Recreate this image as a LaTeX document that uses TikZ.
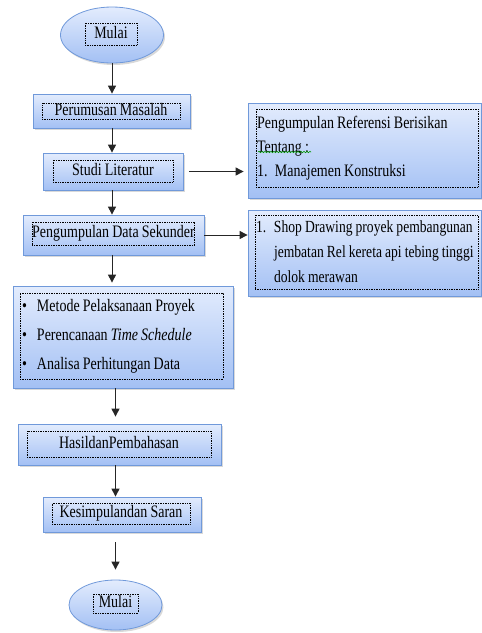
\documentclass[tikz,border=0pt]{standalone}
\usepackage{fontspec}
\setmainfont{Liberation Serif}[FakeStretch=0.8, WordSpace=0.9]
\usetikzlibrary{
    positioning,
    arrows.meta,
    shapes.geometric,
    shadows,
    decorations.pathmorphing
}

\definecolor{boxtop}{HTML}{E3ECFD}
\definecolor{boxbottom}{HTML}{A3C0F4}
\definecolor{boxline}{HTML}{7099DA}

\begin{document}
\begin{tikzpicture}[
    x=1pt, y=-1pt,
    font=\fontsize{17.5}{20}\selectfont,
    flowbox/.style={
        rectangle, draw=boxline, line width=0.8pt,
        top color=boxtop, bottom color=boxbottom, inner sep=0pt,
        drop shadow={shadow xshift=1.5pt, shadow yshift=-2pt, opacity=0.3}
    },
    startend/.style={flowbox, ellipse},
    textframe/.style={
        rectangle, draw=black, densely dotted, line width=0.7pt,
        inner sep=0pt, align=center, text height=12pt, text depth=4pt
    },
    listframe/.style={
        rectangle, draw=black, densely dotted, line width=0.7pt,
        inner sep=0pt, align=left
    },
    arr/.style={-{Triangle[length=8pt, width=8pt]}, line width=1pt, draw=black!85}
]
\useasboundingbox (0,0) rectangle (482,633);
\clip (0,0) rectangle (482,633);

% Left column: main steps
\node[startend, minimum width=103, minimum height=56] (mulai1) at (112,35) {};
\node[textframe, minimum width=52, minimum height=22] (mulai1_t) at (111,34) {Mulai};

\node[flowbox, minimum width=157, minimum height=34] (rumus) at (111.5,111) {};
\node[textframe, minimum width=138, minimum height=16] (rumus_t) at (111,111) {Perumusan Masalah};

\node[flowbox, minimum width=140, minimum height=37] (studi) at (113,171.5) {};
\node[textframe, minimum width=120, minimum height=22] (studi_t) at (113,171) {Studi Literatur};

\node[flowbox, minimum width=181, minimum height=40] (sekunder) at (113.5,235) {};
\node[textframe, minimum width=161, minimum height=23] (sekunder_t) at (113.5,233.5) {Pengumpulan Data Sekunder};

\node[flowbox, minimum width=220, minimum height=102] (metode) at (123,337) {};
\node[listframe, minimum width=203, minimum height=86, text width=199,
    font=\fontsize{17.5}{29}\selectfont] (metode_t) at (121.5,336)
    {\spaceskip=0pt\relax
     \mbox{\makebox[15pt][l]{\textbullet}Metode Pelaksanaan Proyek}\\
     \mbox{\makebox[15pt][l]{\textbullet}Perencanaan \textit{Time Schedule}}\\
     \mbox{\makebox[15pt][l]{\textbullet}Analisa Perhitungan Data}};

\node[flowbox, minimum width=203, minimum height=41] (hasil) at (119.5,444.5) {};
\node[textframe, minimum width=184, minimum height=26] (hasil_t) at (119,444) {HasildanPembahasan};

\node[flowbox, minimum width=158, minimum height=35] (kesimpulan) at (122,514.5) {};
\node[textframe, minimum width=138, minimum height=21] (kesimpulan_t) at (121,513.5) {Kesimpulandan Saran};

\node[startend, minimum width=93, minimum height=50] (mulai2) at (115.5,605) {};
\node[textframe, minimum width=45, minimum height=19] (mulai2_t) at (115.5,603.5) {Mulai};

% Right column: references and data
\node[flowbox, minimum width=233, minimum height=95] (ref) at (364.5,150.5) {};
\node[listframe, minimum width=222, minimum height=78, text width=220,
    font=\fontsize{17.5}{24}\selectfont] (ref_t) at (367,148)
    {\spaceskip=0pt\relax
     \mbox{Pengumpulan Referensi Berisikan}\\
     \mbox{Tentang :}\\
     \mbox{\makebox[18pt][l]{1.}Manajemen Konstruksi}};
\draw[green!60!black, line width=0.6pt, decorate,
    decoration={snake, amplitude=0.7pt, segment length=3pt}] (258,152) -- (311,152);

\node[flowbox, minimum width=233, minimum height=86] (shop) at (364.5,253) {};
\node[listframe, minimum width=223, minimum height=74, text width=221,
    font=\fontsize{17}{25}\selectfont] (shop_t) at (366.5,252)
    {\spaceskip=0pt\relax
     \mbox{\makebox[18pt][l]{1.}Shop Drawing proyek pembangunan}\\
     \mbox{\hspace*{18pt}jembatan Rel kereta api tebing tinggi}\\
     \mbox{\hspace*{18pt}dolok merawan}};

% Arrows
\draw[arr] (mulai1.south) -- (rumus.north -| mulai1);
\draw[arr] (rumus.south -| mulai1) -- (studi.north -| mulai1);
\draw[arr] (studi.south -| mulai1) -- (sekunder.north -| mulai1);
\draw[arr, shorten >=3pt] (sekunder.south -| mulai1) -- (metode.north -| mulai1);
\draw[arr, shorten >=7pt] (metode.south -| mulai2) -- (hasil.north -| mulai2);
\draw[arr] (hasil.south -| mulai2) -- (kesimpulan.north -| mulai2);
\draw[arr, shorten <=10pt, shorten >=10pt] (kesimpulan.south -| mulai2) -- (mulai2.north);

\draw[arr, shorten <=6pt, shorten >=4pt] (studi.east) -- (studi.east -| ref.west);
\draw[arr] (sekunder.east) -- (sekunder.east -| shop.west);

\end{tikzpicture}
\end{document}
